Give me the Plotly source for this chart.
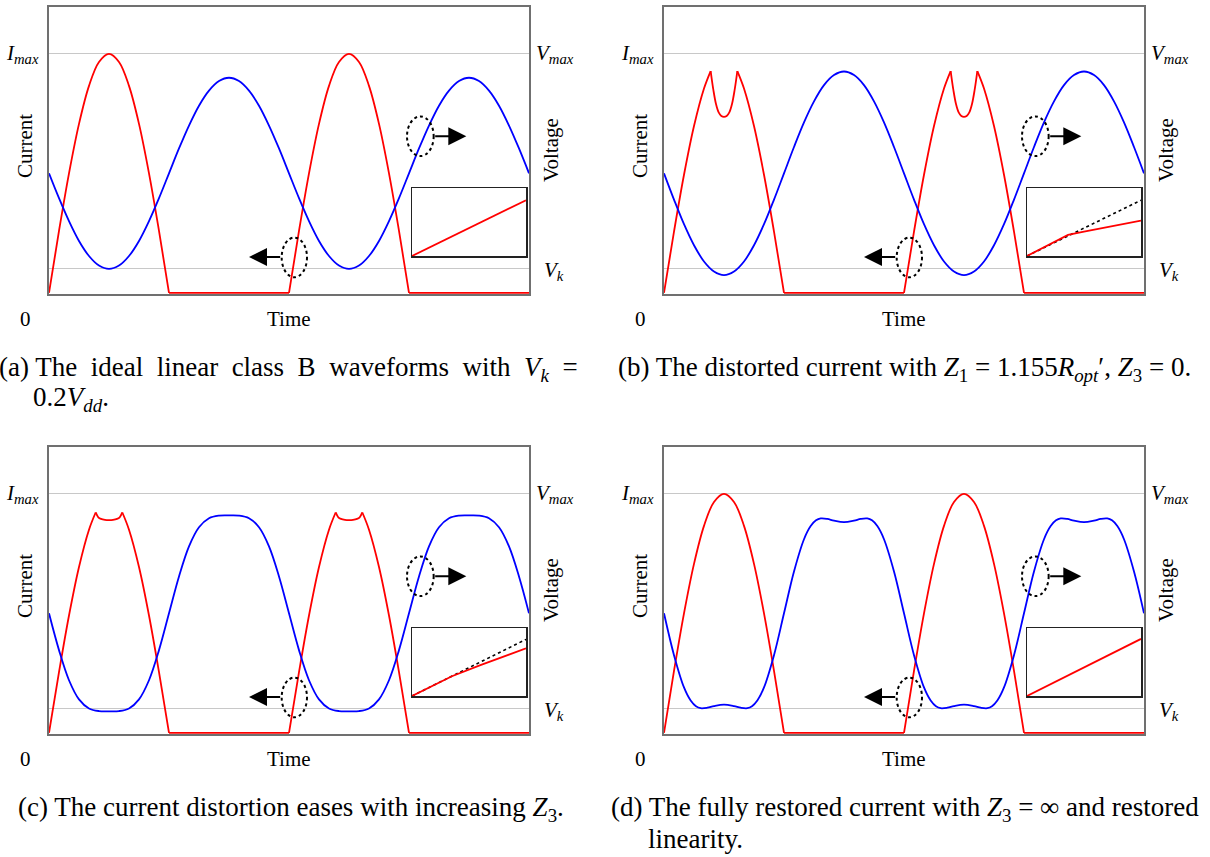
import plotly.graph_objects as go

W, H = 1210, 857

# ---------------- data ----------------
# time in electrical degrees; two RF cycles are shown
cycle_onsets = [0, 360]
cycle_length = 360
VK = 0.1          # knee voltage in units of Vmax (Vk = 0.2 Vdd, Vmax = 2 Vdd)
IMAX = 1.0

# drain current, one cycle (units of Imax); None splits drawn pieces at cusps / conduction edges
cur_a_t = [0, 15, 30, 45, 60, 75, 90, 105, 120, 135, 150, 165, 180, None, 180, 360]
cur_a = [0, .259, .5, .707, .866, .966, 1, .966, .866, .707, .5, .259, 0, None, 0, 0]

cur_b_t = [0, 15, 30, 45, 60, 70, None, 70, 74, 78, 82, 86, 90, 94, 98, 102, 106, 110, None,
           110, 120, 135, 150, 165, 180, None, 180, 360]
cur_b = [0, .256, .494, .698, .855, .928, None, .928, .850, .790, .755, .740, .736, .740, .755, .790, .850, .928, None,
         .928, .855, .698, .494, .256, 0, None, 0, 0]

cur_c_t = [0, 15, 30, 45, 60, 70, None, 70, 74, 78, 84, 90, 96, 102, 106, 110, None,
           110, 120, 135, 150, 165, 180, None, 180, 360]
cur_c = [0, .254, .491, .694, .850, .922, None, .922, .902, .895, .891, .890, .891, .895, .902, .922, None,
         .922, .850, .694, .491, .254, 0, None, 0, 0]

cur_d_t = [0, 15, 30, 45, 60, 75, 90, 105, 120, 135, 150, 165, 180, None, 180, 360]
cur_d = [0, .259, .5, .707, .866, .966, 1, .966, .866, .707, .5, .259, 0, None, 0, 0]

# drain voltage, one cycle (units of Vmax)
volt_t = [0, 15, 30, 45, 60, 75, 90, 105, 120, 135, 150, 165, 180, 195, 210, 225, 240, 255, 270, 285, 300, 315, 330, 345]
volt_a = [.500, .396, .300, .217, .154, .114, .100, .114, .154, .217, .300, .396,
          .500, .604, .700, .783, .846, .886, .900, .886, .846, .783, .700, .604]
volt_b = [.500, .390, .287, .199, .131, .089, .074, .089, .131, .199, .287, .390,
          .500, .610, .713, .801, .869, .911, .926, .911, .869, .801, .713, .610]
volt_c = [.500, .346, .220, .140, .102, .091, .090, .091, .102, .140, .220, .346,
          .500, .654, .780, .860, .898, .909, .910, .909, .898, .860, .780, .654]
volt_d_t = [0, 15, 30, 40, 48, 55, 65, 75, 90, 105, 115, 125, 132, 140, 150, 165,
            180, 195, 210, 220, 228, 235, 245, 255, 270, 285, 295, 305, 312, 320, 330, 345]
volt_d = [.500, .325, .190, .135, .111, .103, .105, .112, .118, .112, .105, .103, .111, .135, .190, .325,
          .500, .675, .810, .865, .889, .897, .895, .888, .882, .888, .895, .897, .889, .865, .810, .675]

# inset transfer characteristics (normalised drive -> output)
inset_a_x, inset_a_y = [0, 1], [0, .82]
inset_b_ref_x, inset_b_ref_y = [0, 1], [0, .82]
inset_b_x, inset_b_y = [0, .36, .5, .67, .83, 1], [0, .31, .36, .417, .47, .52]
inset_c_ref_x, inset_c_ref_y = [0, 1], [0, .833]
inset_c_x, inset_c_y = [0, .35, .6, 1], [0, .29, .455, .70]
inset_d_x, inset_d_y = [0, 1], [0, .84]

captions = {
    'a': ["(a) The\u00a0 ideal\u00a0 linear\u00a0 class\u00a0 B\u00a0 waveforms\u00a0 with\u00a0 <i>V</i><sub><i>k</i></sub>\u00a0 =",
          "0.2<i>V</i><sub><i>dd</i></sub>."],
    'b': ["(b) The distorted current with <i>Z</i><sub>1</sub> = 1.155<i>R</i><sub><i>opt</i></sub>\u2032, <i>Z</i><sub>3</sub> = 0."],
    'c': ["(c) The current distortion eases with increasing <i>Z</i><sub>3</sub>."],
    'd': ["(d) The fully restored current with <i>Z</i><sub>3</sub> = \u221e and restored",
          "linearity."],
}

# ---------------- style / geometry ----------------
FONT = "Liberation Serif, Times New Roman, serif"
RED, BLUE = "#ff0000", "#0000ff"
BOX, GRID = "#707070", "#c8c8c8"
LABEL_SIZE, CAPTION_SIZE = 21, 27
PW, PH = 480, 287                      # panel size in px
IX, IY, IW, IH = 363, 181, 114, 68     # inset offset/size in px inside panel
Y_RANGE = [-0.005, 1.196]
X_RANGE = [0, 720]

panels = [
    dict(key='a', left=49, top=7, cur=(cur_a_t, cur_a), volt=(volt_t, volt_a),
         inset=(inset_a_x, inset_a_y), ref=None, cap_x=[-3, 31]),
    dict(key='b', left=664, top=7, cur=(cur_b_t, cur_b), volt=(volt_t, volt_b),
         inset=(inset_b_x, inset_b_y), ref=(inset_b_ref_x, inset_b_ref_y), cap_x=[616]),
    dict(key='c', left=49, top=447, cur=(cur_c_t, cur_c), volt=(volt_t, volt_c),
         inset=(inset_c_x, inset_c_y), ref=(inset_c_ref_x, inset_c_ref_y), cap_x=[16]),
    dict(key='d', left=664, top=447, cur=(cur_d_t, cur_d), volt=(volt_d_t, volt_d),
         inset=(inset_d_x, inset_d_y), ref=None, cap_x=[609, 646]),
]


def tile(t, v, closed):
    xs, ys = [], []
    for k, o in enumerate(cycle_onsets):
        if k and not closed:
            xs.append(None)
            ys.append(None)
        xs += [None if ti is None else o + ti for ti in t]
        ys += list(v)
    if closed:
        xs.append(cycle_onsets[-1] + cycle_length)
        ys.append(v[0])
    return xs, ys


def px(x):
    return x / W


def py(y):
    return 1 - y / H


fig = go.Figure()
layout = dict(width=W, height=H, margin=dict(l=0, r=0, t=0, b=0), autosize=False,
              paper_bgcolor='white', plot_bgcolor='white', showlegend=False,
              font=dict(family=FONT, color='black', size=LABEL_SIZE))
shapes, annotations = [], []

hidden = dict(showticklabels=False, ticks='', zeroline=False)

for i, p in enumerate(panels, start=1):
    L, T = p['left'], p['top']
    layout[f'xaxis{i}'] = dict(domain=[px(L), px(L + PW)], range=X_RANGE, anchor=f'y{i}',
                               showline=True, mirror=True, linecolor=BOX, linewidth=2,
                               showgrid=False, **hidden)
    layout[f'yaxis{i}'] = dict(domain=[py(T + PH), py(T)], range=Y_RANGE, anchor=f'x{i}',
                               tickvals=[VK, IMAX], showgrid=True, gridcolor=GRID, gridwidth=1,
                               showline=True, mirror=True, linecolor=BOX, linewidth=2, **hidden)
    layout[f'yaxis{i + 4}'] = dict(overlaying=f'y{i}', anchor=f'x{i}', side='right', range=Y_RANGE,
                                   showgrid=False, showline=False, **hidden)
    layout[f'xaxis{i + 4}'] = dict(domain=[px(L + IX), px(L + IX + IW)], range=[0, 1], anchor=f'y{i + 8}',
                                   showline=True, mirror=True, linecolor='#222222', linewidth=1.5,
                                   showgrid=False, **hidden)
    layout[f'yaxis{i + 8}'] = dict(domain=[py(T + IY + IH), py(T + IY)], range=[0, 1], anchor=f'x{i + 4}',
                                   showline=True, mirror=True, linecolor='#222222', linewidth=1.5,
                                   showgrid=False, **hidden)

    cx, cy = tile(*p['cur'], closed=False)
    fig.add_trace(go.Scatter(x=cx, y=cy, mode='lines', hoverinfo='skip',
                             line=dict(color=RED, width=1.8, shape='spline', smoothing=1),
                             xaxis=f'x{i}', yaxis=f'y{i}'))
    vx, vy = tile(*p['volt'], closed=True)
    fig.add_trace(go.Scatter(x=vx, y=vy, mode='lines', hoverinfo='skip',
                             line=dict(color=BLUE, width=1.8, shape='spline', smoothing=1),
                             xaxis=f'x{i}', yaxis=f'y{i + 4}'))
    if p['ref'] is not None:
        fig.add_trace(go.Scatter(x=p['ref'][0], y=p['ref'][1], mode='lines', hoverinfo='skip',
                                 line=dict(color='black', width=1.6, dash='dot'),
                                 xaxis=f'x{i + 4}', yaxis=f'y{i + 8}'))
    fig.add_trace(go.Scatter(x=p['inset'][0], y=p['inset'][1], mode='lines', hoverinfo='skip',
                             line=dict(color=RED, width=1.8),
                             xaxis=f'x{i + 4}', yaxis=f'y{i + 8}'))

    # dotted ellipses and arrows pointing to the relevant axis
    for (ex0, ex1, ey0, ey1) in [(537, 577, 0.572, 0.738), (349, 387, 0.065, 0.231)]:
        shapes.append(dict(type='circle', xref=f'x{i}', yref=f'y{i}', x0=ex0, x1=ex1, y0=ey0, y1=ey1,
                           line=dict(color='black', width=2, dash='dot')))
    for (tx, ty, hx, hy) in [(577, 0.655, 626, 0.655), (349, 0.15, 300, 0.15)]:
        annotations.append(dict(xref=f'x{i}', yref=f'y{i}', axref=f'x{i}', ayref=f'y{i}',
                                x=hx, y=hy, ax=tx, ay=ty, text='', showarrow=True,
                                arrowhead=2, arrowsize=1.8, arrowwidth=2, arrowcolor='black',
                                standoff=0, startstandoff=0))

    def lab(text, x, y, xanchor='center', angle=0, size=LABEL_SIZE):
        annotations.append(dict(xref='paper', yref='paper', x=px(x), y=py(y), text=text,
                                showarrow=False, xanchor=xanchor, yanchor='middle', textangle=angle,
                                font=dict(family=FONT, size=size, color='black')))

    lab("<i>I</i><sub><i>max</i></sub>", L - 8, T + 47, 'right')
    lab("<i>V</i><sub><i>max</i></sub>", L + PW + 5, T + 47, 'left')
    lab("<i>V</i><sub><i>k</i></sub>", L + PW + 13, T + 264, 'left')
    lab("0", L - 24, T + 312)
    lab("Time", L + PW / 2, T + 312)
    lab("Current", L - 24, T + 139, angle=-90)
    lab("Voltage", L + PW + 22, T + 143, angle=-90)

    cap_y = T + 362
    for k, line in enumerate(captions[p['key']]):
        lab(line, p['cap_x'][k], cap_y + 30 * k, 'left', size=CAPTION_SIZE)

layout['shapes'] = shapes
layout['annotations'] = annotations
fig.update_layout(**layout)
fig.write_html("out.html", config={'displayModeBar': False, 'staticPlot': True},
               post_script="document.body.style.margin='0px';document.body.style.overflow='hidden';")
